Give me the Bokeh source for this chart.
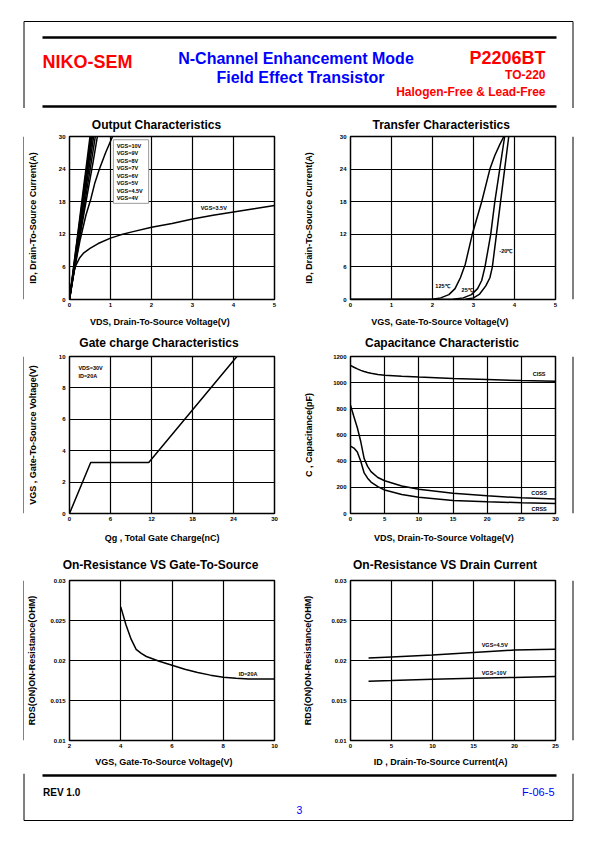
from bokeh.plotting import figure
from bokeh.layouts import column, row
from bokeh.models import Range1d, Title, FixedTicker
from bokeh.core.properties import value
from bokeh.embed import file_html
from bokeh.resources import INLINE

FONT = "Liberation Sans"
RED = "#ff0000"
BLUE = "#0000ff"

# ---------------- data ----------------
# Output characteristics: ID (A) vs VDS (V)
OUT_X_10V = [0.0, 0.50]
OUT_Y_10V = [0.0, 30.0]
OUT_X_9V = [0.0, 0.52]
OUT_Y_9V = [0.0, 30.0]
OUT_X_8V = [0.0, 0.54]
OUT_Y_8V = [0.0, 30.0]
OUT_X_7V = [0.0, 0.56]
OUT_Y_7V = [0.0, 30.0]
OUT_X_6V = [0.0, 0.59]
OUT_Y_6V = [0.0, 30.0]
OUT_X_5V = [0.0, 0.63]
OUT_Y_5V = [0.0, 30.0]
OUT_X_45V = [0.0, 0.25, 0.45, 0.58, 0.68]
OUT_Y_45V = [0.0, 11.5, 20.0, 25.5, 30.0]
OUT_X_4V = [0.0, 0.12, 0.26, 0.40, 0.52, 0.62, 0.73, 0.88, 1.05]
OUT_Y_4V = [0.0, 5.5, 11.0, 15.5, 18.5, 21.5, 24.0, 27.0, 30.0]
OUT_X_35V = [0.0, 0.04, 0.10, 0.15, 0.25, 0.35, 0.5, 0.7, 1.0, 1.25, 1.5, 2.0, 2.5, 3.0, 3.5, 4.0, 4.5, 5.0]
OUT_Y_35V = [0.0, 2.5, 4.8, 6.2, 7.7, 8.6, 9.4, 10.3, 11.3, 11.9, 12.4, 13.3, 14.0, 14.8, 15.5, 16.1, 16.7, 17.3]
OUT_LEGEND = ["VGS=10V", "VGS=9V", "VGS=8V", "VGS=7V", "VGS=6V", "VGS=5V", "VGS=4.5V", "VGS=4V"]

# Transfer characteristics: ID (A) vs VGS (V)
TR_X_125 = [0.0, 1.0, 2.0, 2.2, 2.4, 2.55, 2.68, 2.8, 2.97, 3.2, 3.4, 3.52, 3.64, 3.74]
TR_Y_125 = [0.0, 0.0, 0.05, 0.3, 0.9, 2.0, 4.0, 6.5, 12.0, 18.0, 24.0, 26.5, 28.5, 30.0]
TR_X_25 = [0.0, 2.0, 2.5, 2.75, 2.95, 3.1, 3.2, 3.28, 3.42, 3.52, 3.64, 3.76]
TR_Y_25 = [0.0, 0.0, 0.05, 0.3, 0.9, 2.0, 3.5, 6.0, 12.0, 18.0, 24.0, 30.0]
TR_X_M20 = [0.0, 2.5, 2.8, 3.0, 3.15, 3.3, 3.4, 3.46, 3.56, 3.66, 3.76, 3.86]
TR_Y_M20 = [0.0, 0.0, 0.05, 0.3, 1.0, 2.5, 4.0, 6.0, 12.0, 18.0, 24.0, 30.0]

# Gate charge: VGS (V) vs Qg (nC)
GC_QG = [0.0, 3.1, 11.6, 24.5]
GC_VGS = [0.0, 3.25, 3.25, 10.0]

# Capacitance (pF) vs VDS (V)
CAP_VDS = [0, 0.5, 1, 1.5, 2, 2.5, 3, 4, 5, 7.5, 10, 15, 20, 25, 30]
CAP_CISS = [1132, 1118, 1105, 1094, 1085, 1078, 1072, 1063, 1057, 1049, 1043, 1032, 1024, 1016, 1010]
CAP_COSS = [827, 740, 655, 550, 420, 360, 320, 275, 250, 210, 185, 155, 135, 120, 110]
CAP_CRSS = [515, 500, 470, 400, 310, 270, 240, 205, 180, 145, 125, 100, 90, 82, 76]

# On-resistance (ohm) vs VGS (V), ID = 20 A
RV_VGS = [4.0, 4.2, 4.4, 4.6, 4.8, 5.0, 5.5, 6.0, 6.5, 7.0, 7.5, 8.0, 8.5, 9.0, 10.0]
RV_RDS = [0.0267, 0.0245, 0.0227, 0.0214, 0.0209, 0.0205, 0.0199, 0.0194, 0.0189, 0.0185,
          0.01817, 0.0179, 0.01779, 0.0177, 0.0177]

# On-resistance (ohm) vs ID (A)
RI_ID = [2.2, 5, 10, 15, 20, 25]
RI_RDS_45V = [0.0203, 0.02045, 0.0207, 0.0210, 0.0213, 0.0214]
RI_RDS_10V = [0.01742, 0.0175, 0.01767, 0.01779, 0.01788, 0.0180]

# ticks
T_OUT_X = [0, 1, 2, 3, 4, 5]
T_OUT_Y = [0, 6, 12, 18, 24, 30]
T_GC_X = [0, 6, 12, 18, 24, 30]
T_GC_Y = [0, 2, 4, 6, 8, 10]
T_CAP_X = [0, 5, 10, 15, 20, 25, 30]
T_CAP_Y = [0, 200, 400, 600, 800, 1000, 1200]
T_RV_X = [2, 4, 6, 8, 10]
T_RI_X = [0, 5, 10, 15, 20, 25]
T_R_Y = [0.01, 0.015, 0.02, 0.025, 0.03]
T_R_Y_LABELS = ["0.01", "0.015", "0.02", "0.025", "0.03"]

# ---------------- helpers ----------------
_W = {' ': 278, '!': 333, '(': 333, ')': 333, ',': 278, '-': 333, '.': 278, '/': 278,
      ':': 333, '=': 584, '&': 722,
      'A': 722, 'B': 722, 'C': 722, 'D': 722, 'E': 667, 'F': 611, 'G': 778, 'H': 722, 'I': 278,
      'J': 556, 'K': 722, 'L': 611, 'M': 833, 'N': 722, 'O': 778, 'P': 667, 'Q': 778, 'R': 722,
      'S': 667, 'T': 611, 'U': 722, 'V': 667, 'W': 944, 'X': 667, 'Y': 667, 'Z': 611,
      'a': 556, 'b': 611, 'c': 556, 'd': 611, 'e': 556, 'f': 333, 'g': 611, 'h': 611, 'i': 278,
      'j': 278, 'k': 556, 'l': 278, 'm': 889, 'n': 611, 'o': 611, 'p': 611, 'q': 611, 'r': 389,
      's': 556, 't': 333, 'u': 611, 'v': 556, 'w': 778, 'x': 556, 'y': 556, 'z': 500}


def tw(s, size):
    return sum(_W.get(ch, 556) for ch in s) / 1000.0 * size


def deco(x0, x1, y0, y1):
    p = figure(width=x1 - x0, height=y1 - y0, x_range=Range1d(x0, x1), y_range=Range1d(y1, y0),
               x_axis_type=None, y_axis_type=None, output_backend="svg", toolbar_location=None,
               min_border=0, min_border_left=0, min_border_right=0, min_border_top=0,
               min_border_bottom=0)
    p.outline_line_color = None
    p.background_fill_color = "white"
    p.border_fill_color = "white"
    return p


def txt(p, x, y, s, size, color="black", align="left", style="bold"):
    p.text(x=[x], y=[y], text=[s], text_font=value(FONT), text_font_size=value(f"{size}px"),
           text_font_style=style, text_color=color, text_align=align, text_baseline="middle")


def chart(fig_box, frame_box, xr, yr, xticks, yticks, title, xlabel, ylabel,
          title_center, xlabel_center, ylabel_dist, title_gap, xlabel_gap, ylabels=None):
    fx0, fy0, fx1, fy1 = fig_box
    l, t, r, b = frame_box
    p = figure(width=fx1 - fx0, height=fy1 - fy0, x_range=Range1d(*xr), y_range=Range1d(*yr),
               output_backend="svg", toolbar_location=None,
               min_border_left=l - fx0, min_border_right=fx1 - r,
               min_border_top=t - fy0, min_border_bottom=fy1 - b)
    p.background_fill_color = "white"
    p.border_fill_color = "white"
    p.outline_line_color = "black"
    p.outline_line_width = 1.5
    p.xaxis.ticker = FixedTicker(ticks=xticks)
    p.yaxis.ticker = FixedTicker(ticks=yticks)
    for ax in (p.xaxis[0], p.yaxis[0]):
        ax.axis_line_color = None
        ax.major_tick_line_color = None
        ax.minor_tick_line_color = None
        ax.major_tick_out = 0
        ax.major_tick_in = 0
        ax.minor_tick_out = 0
        ax.minor_tick_in = 0
        ax.major_label_text_font = FONT
        ax.major_label_text_font_size = "6px"
        ax.major_label_text_font_style = "bold"
        ax.major_label_text_color = "black"
    p.xaxis.major_label_standoff = 3
    p.yaxis.major_label_standoff = 4
    if ylabels is not None:
        p.yaxis.major_label_overrides = {v: s for v, s in zip(yticks, ylabels)}
        widest = max(tw(s, 6) for s in ylabels)
    else:
        widest = max(tw(str(v), 6) for v in yticks)
    p.yaxis.axis_label = ylabel
    p.yaxis.axis_label_text_font = FONT
    p.yaxis.axis_label_text_font_size = "9px"
    p.yaxis.axis_label_text_font_style = "bold"
    p.yaxis.axis_label_text_color = "black"
    p.yaxis.axis_label_standoff = max(0, int(round(ylabel_dist - 4 - widest - 5.2)))
    for g in (p.xgrid[0], p.ygrid[0]):
        g.grid_line_color = "black"
        g.grid_line_width = 1.2
    # chart title (above)
    p.add_layout(Title(text=" ", text_font_size="1px", standoff=title_gap), "above")
    p.add_layout(Title(text=title, align="left", offset=title_center - l - tw(title, 12) / 2,
                       text_font=FONT, text_font_size="12px", text_font_style="bold",
                       text_color="black", standoff=0, vertical_align="bottom"), "above")
    # x label (below)
    p.add_layout(Title(text=" ", text_font_size="1px", standoff=xlabel_gap), "below")
    p.add_layout(Title(text=xlabel, align="left", offset=xlabel_center - l - tw(xlabel, 9) / 2,
                       text_font=FONT, text_font_size="9px", text_font_style="bold",
                       text_color="black", standoff=0, vertical_align="top"), "below")
    return p


def note(p, x, y, s, size=5.5, align="left"):
    p.text(x=[x], y=[y], text=[s], text_font=value(FONT), text_font_size=value(f"{size}px"),
           text_font_style="bold", text_color="black", text_align=align, text_baseline="middle")


# ---------------- page layout (page pixel coordinates) ----------------
PX0, PX1, PY0, PY1 = 0, 595, 0, 842
TOP = 21
BL, BR, BB = 23.5, 572.5, 820
LX0, LX1, RX0, RX1 = 24, 298, 298, 571
ROWS = [(108, 330), (330, 550), (550, 773)]
FRAMES_Y = [(136, 299), (356, 513), (580, 740)]
FL = (69, 274)
FR = (350, 555)

# header
header = deco(PX0, PX1, PY0, ROWS[0][0])
header.segment(x0=[BL, BR, BL], y0=[TOP, TOP, TOP], x1=[BL, BR, BR], y1=[ROWS[0][0], ROWS[0][0], TOP],
               line_color="black", line_width=1)
header.segment(x0=[42, 42], y0=[37, 106], x1=[556, 556], y1=[37, 106], line_color="black", line_width=2.5)
txt(header, 42, 61, "NIKO-SEM", 18, RED)
txt(header, 295.5, 57.5, "N-Channel Enhancement Mode", 16, BLUE, "center")
txt(header, 300, 77, "Field Effect Transistor", 16, BLUE, "center")
txt(header, 545, 57.5, "P2206BT", 18, RED, "right")
txt(header, 545, 74.5, "TO-220", 12, RED, "right")
txt(header, 545, 91, "Halogen-Free & Lead-Free", 12, RED, "right")


def strip(x0, x1, y0, y1, xline):
    s = deco(x0, x1, y0, y1)
    s.segment(x0=[xline], y0=[y0], x1=[xline], y1=[y1], line_color="black", line_width=1)
    return s


# chart 1 : output characteristics
(r0, r1), (ft, fb) = ROWS[0], FRAMES_Y[0]
c1 = chart((LX0, r0, LX1, r1), (FL[0], ft, FL[1], fb), (0, 5), (0, 30), T_OUT_X, T_OUT_Y,
           "Output Characteristics", "VDS, Drain-To-Source Voltage(V)",
           "ID, Drain-To-Source Current(A)", 156, 160, 34, 2, 4)
for xs, ys in [(OUT_X_10V, OUT_Y_10V), (OUT_X_9V, OUT_Y_9V), (OUT_X_8V, OUT_Y_8V),
               (OUT_X_7V, OUT_Y_7V), (OUT_X_6V, OUT_Y_6V), (OUT_X_5V, OUT_Y_5V),
               (OUT_X_45V, OUT_Y_45V), (OUT_X_4V, OUT_Y_4V), (OUT_X_35V, OUT_Y_35V)]:
    c1.line(xs, ys, line_color="black", line_width=1.5)
c1.quad(left=[1.07], right=[1.93], bottom=[17.7], top=[29.4], fill_color="white",
        line_color="#9a9a9a", line_width=1)
for i, s in enumerate(OUT_LEGEND):
    note(c1, 1.15, 28.3 - i * 1.38, s, 5.5)
note(c1, 3.2, 16.8, "VGS=3.5V", 5.5)

# chart 2 : transfer characteristics
c2 = chart((RX0, r0, RX1, r1), (FR[0], ft, FR[1], fb), (0, 5), (0, 30), T_OUT_X, T_OUT_Y,
           "Transfer Characteristics", "VGS, Gate-To-Source Voltage(V)",
           "ID, Drain-To-Source Current(A)", 441, 440, 39, 2, 4)
for xs, ys in [(TR_X_125, TR_Y_125), (TR_X_25, TR_Y_25), (TR_X_M20, TR_Y_M20)]:
    c2.line(xs, ys, line_color="black", line_width=1.5)
note(c2, 2.07, 2.4, "125\u2103", 5.5)
note(c2, 2.71, 1.8, "25\u2103", 5.5)
note(c2, 3.63, 9.0, "-20\u2103", 5.5)

# chart 3 : gate charge
(r0, r1), (ft, fb) = ROWS[1], FRAMES_Y[1]
c3 = chart((LX0, r0, LX1, r1), (FL[0], ft, FL[1], fb), (0, 30), (0, 10), T_GC_X, T_GC_Y,
           "Gate charge Characteristics", "Qg , Total Gate Charge(nC)",
           "VGS , Gate-To-Source Voltage(V)", 158.5, 162, 34, 4, 6)
c3.line(GC_QG, GC_VGS, line_color="black", line_width=1.5)
note(c3, 1.3, 9.24, "VDS=30V", 5.5)
note(c3, 1.3, 8.73, "ID=20A", 5.5)

# chart 4 : capacitance
c4 = chart((RX0, r0, RX1, r1), (FR[0], ft, FR[1], fb), (0, 30), (0, 1200), T_CAP_X, T_CAP_Y,
           "Capacitance Characteristic", "VDS, Drain-To-Source Voltage(V)",
           "C , Capacitance(pF)", 441.5, 444, 39, 4, 6)
for ys in (CAP_CISS, CAP_COSS, CAP_CRSS):
    c4.line(CAP_VDS, ys, line_color="black", line_width=1.5)
note(c4, 27.6, 1068, "CISS", 5.5, "center")
note(c4, 27.6, 155, "COSS", 5.5, "center")
note(c4, 27.6, 33, "CRSS", 5.5, "center")

# chart 5 : on-resistance vs VGS
(r0, r1), (ft, fb) = ROWS[2], FRAMES_Y[2]
c5 = chart((LX0, r0, LX1, r1), (FL[0], ft, FL[1], fb), (2, 10), (0.01, 0.03), T_RV_X, T_R_Y,
           "On-Resistance VS Gate-To-Source", "VGS, Gate-To-Source Voltage(V)",
           "RDS(ON)ON-Resistance(OHM)", 160.5, 164, 34, 6, 3, T_R_Y_LABELS)
c5.line(RV_VGS, RV_RDS, line_color="black", line_width=1.5)
note(c5, 8.6, 0.01834, "ID=20A", 5.5)

# chart 6 : on-resistance vs ID
c6 = chart((RX0, r0, RX1, r1), (FR[0], ft, FR[1], fb), (0, 25), (0.01, 0.03), T_RI_X, T_R_Y,
           "On-Resistance VS Drain Current", "ID , Drain-To-Source Current(A)",
           "RDS(ON)ON-Resistance(OHM)", 444.5, 440.5, 39, 6, 3, T_R_Y_LABELS)
c6.line(RI_ID, RI_RDS_45V, line_color="black", line_width=1.5)
c6.line(RI_ID, RI_RDS_10V, line_color="black", line_width=1.5)
note(c6, 16.0, 0.02196, "VGS=4.5V", 5.5)
note(c6, 16.0, 0.01846, "VGS=10V", 5.5)

rows = []
for (r0, r1), (cl, cr) in zip(ROWS, [(c1, c2), (c3, c4), (c5, c6)]):
    rows.append(row(strip(PX0, LX0, r0, r1, BL), cl, cr, strip(RX1, PX1, r0, r1, BR)))

# footer
F0 = ROWS[2][1]
footer = deco(PX0, PX1, F0, PY1)
footer.segment(x0=[BL, BR, BL], y0=[F0, F0, BB], x1=[BL, BR, BR], y1=[BB, BB, BB],
               line_color="black", line_width=1)
footer.segment(x0=[42], y0=[775], x1=[556], y1=[775], line_color="black", line_width=2.5)
txt(footer, 42.5, 791.5, "REV 1.0", 10, "black")
txt(footer, 554, 791.5, "F-06-5", 11, BLUE, "right", "normal")
txt(footer, 299, 809.5, "3", 10.5, BLUE, "center", "normal")

page = column(header, *rows, footer)
open("out.html", "w").write(file_html(page, INLINE))
